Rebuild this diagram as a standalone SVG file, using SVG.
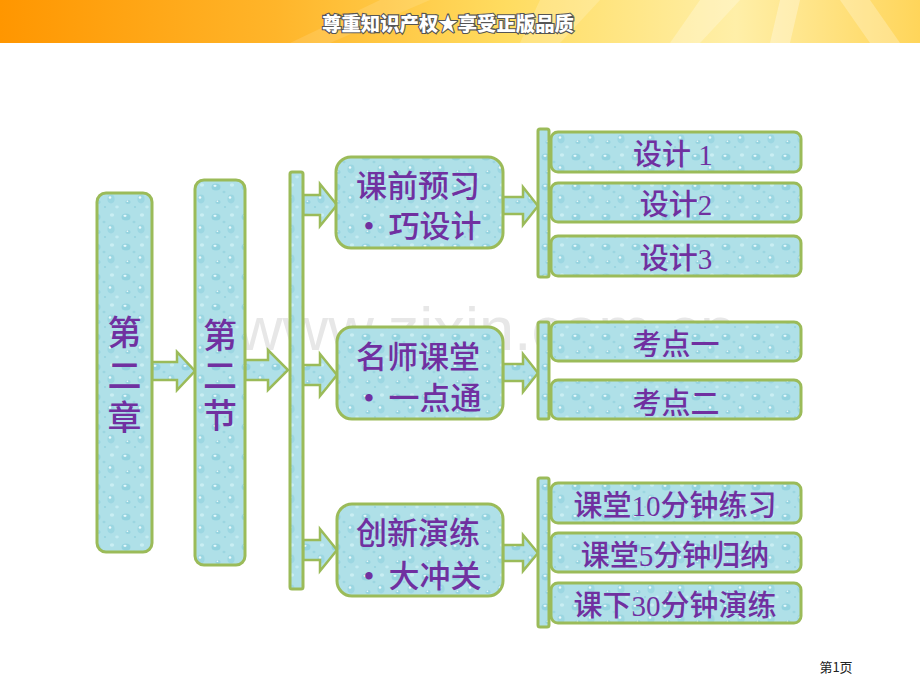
<svg xmlns="http://www.w3.org/2000/svg" width="920" height="690" viewBox="0 0 920 690">
<defs>
<linearGradient id="banner" x1="0" y1="0" x2="1" y2="0">
<stop offset="0" stop-color="#FF9600"/>
<stop offset="0.3" stop-color="#FFB52A"/>
<stop offset="0.55" stop-color="#FFDC60"/>
<stop offset="0.8" stop-color="#FFEFA8"/>
<stop offset="1" stop-color="#FFD55A"/>
</linearGradient>
<pattern id="drops" width="30" height="30" patternUnits="userSpaceOnUse">
<rect width="30" height="30" fill="#AFE0E8"/>
<ellipse cx="6" cy="7" rx="4.5" ry="3.6" fill="#86CCDA" opacity="0.65"/>
<ellipse cx="5" cy="5.8" rx="1.6" ry="1.1" fill="#E8F8FB"/>
<ellipse cx="21" cy="19" rx="3.6" ry="4.4" fill="#8FD0DD" opacity="0.6"/>
<ellipse cx="20" cy="17.5" rx="1.3" ry="1.3" fill="#EAF9FB"/>
<ellipse cx="22" cy="5" rx="2.2" ry="1.8" fill="#C9EEF3"/>
<ellipse cx="8" cy="22" rx="2.6" ry="2.1" fill="#97D4E0"/>
<ellipse cx="7.4" cy="21.2" rx="0.9" ry="0.7" fill="#F0FBFD"/>
<ellipse cx="14" cy="12" rx="1.5" ry="1.2" fill="#9BD6E1"/>
<ellipse cx="27" cy="27" rx="1.8" ry="1.4" fill="#C5ECF2"/>
<ellipse cx="15" cy="27" rx="1.2" ry="1" fill="#8DCFDC" opacity="0.7"/>
</pattern>
<style>
.box{fill:url(#drops);stroke:#9BBB59;stroke-width:3}
.arr{fill:url(#drops);stroke:#9BBB59;stroke-width:2.5;stroke-linejoin:miter}
.t{fill:#7030A0;font-family:"Liberation Serif","Noto Sans CJK SC",serif;font-weight:500;text-anchor:middle}
.big{font-size:34px}
.mid{font-size:31px}
.sm{font-size:29px}
</style>
</defs>
<rect width="920" height="690" fill="#FFFFFF"/>
<g id="header">
<rect x="0" y="0" width="920" height="43" fill="url(#banner)"/>
<polygon points="540,0 600,0 560,43 520,43" fill="#FFFFFF" opacity="0.18"/>
<polygon points="700,0 740,0 700,43 670,43" fill="#FFFFFF" opacity="0.25"/>
<polygon points="780,0 800,0 790,43 770,43" fill="#FFFFFF" opacity="0.3"/>
<polygon points="840,0 870,0 900,43 870,43" fill="#FFFFFF" opacity="0.25"/>
<polygon points="380,0 430,0 330,43 290,43" fill="#FFFFFF" opacity="0.12"/>
<text x="448" y="31" font-family="Noto Sans CJK SC, sans-serif" font-weight="900" font-size="19" text-anchor="middle" fill="#FFFFFF" stroke="#555555" stroke-width="2.2" paint-order="stroke" textLength="252" lengthAdjust="spacingAndGlyphs">尊重知识产权★享受正版品质</text>
</g>
<text x="237" y="350" font-family="Liberation Sans, sans-serif" font-size="62" fill="#BBBBBB" opacity="0.35" textLength="498" lengthAdjust="spacingAndGlyphs">www.zixin.com.cn</text>
<g id="connectors">
<polygon class="arr" points="152,362 177,362 177,352 195,371 177,390 177,380 152,380"/>
<polygon class="arr" points="245,360 268,360 268,350 288,370 268,390 268,380 245,380"/>
<polygon class="arr" points="303,195 320,195 320,184 337,205 320,226 320,215 303,215"/>
<polygon class="arr" points="303,365 320,365 320,354 337,375 320,396 320,385 303,385"/>
<polygon class="arr" points="303,540 320,540 320,529 337,550 320,571 320,560 303,560"/>
<polygon class="arr" points="503,197 523,197 523,187 538,206 523,225 523,214 503,214"/>
<polygon class="arr" points="503,364 523,364 523,354 538,373 523,392 523,381 503,381"/>
<polygon class="arr" points="503,545 523,545 523,535 538,553 523,571 523,561 503,561"/>
</g>
<g id="node-chapter">
<rect class="box" x="97" y="193" width="55" height="359" rx="9"/>
<text class="t big" x="124.5" y="345">第</text>
<text class="t big" x="124.5" y="387.5">二</text>
<text class="t big" x="124.5" y="430">章</text>
</g>
<g id="node-section">
<rect class="box" x="195" y="180" width="50" height="385" rx="9"/>
<text class="t big" x="220" y="348">第</text>
<text class="t big" x="220" y="388">二</text>
<text class="t big" x="220" y="428">节</text>
</g>
<g id="bar-main">
<rect class="box" x="290" y="172" width="13" height="417" rx="2"/>
</g>
<g id="node-preview">
<rect class="box" x="336" y="157" width="167" height="91" rx="15"/>
<text class="t mid" x="418" y="197">课前预习</text>
<text class="t mid" y="237"><tspan x="369">•</tspan><tspan x="435">巧设计</tspan></text>
</g>
<g id="node-class">
<rect class="box" x="337" y="327" width="166" height="92" rx="15"/>
<text class="t mid" x="418" y="368">名师课堂</text>
<text class="t mid" y="409"><tspan x="369">•</tspan><tspan x="435">一点通</tspan></text>
</g>
<g id="node-practice">
<rect class="box" x="337" y="504" width="166" height="92" rx="15"/>
<text class="t mid" x="418" y="544">创新演练</text>
<text class="t mid" y="587"><tspan x="369">•</tspan><tspan x="435">大冲关</tspan></text>
</g>
<g id="bar-r1"><rect class="box" x="538" y="129" width="11" height="148" rx="2"/></g>
<g id="bar-r2"><rect class="box" x="538" y="322" width="11" height="97" rx="2"/></g>
<g id="bar-r3"><rect class="box" x="538" y="478" width="11" height="149" rx="2"/></g>
<g id="node-d1"><rect class="box" x="551" y="132" width="250" height="40" rx="7"/><text class="t sm" x="673" y="165">设计 1</text></g>
<g id="node-d2"><rect class="box" x="551" y="183" width="250" height="39" rx="7"/><text class="t sm" x="676" y="215">设计2</text></g>
<g id="node-d3"><rect class="box" x="551" y="236" width="250" height="40" rx="7"/><text class="t sm" x="676" y="269">设计3</text></g>
<g id="node-k1"><rect class="box" x="551" y="322" width="250" height="39" rx="7"/><text class="t sm" x="676" y="355">考点一</text></g>
<g id="node-k2"><rect class="box" x="551" y="380" width="250" height="39" rx="7"/><text class="t sm" x="676" y="414">考点二</text></g>
<g id="node-p1"><rect class="box" x="551" y="483" width="250" height="40" rx="7"/><text class="t sm" x="675" y="516">课堂10分钟练习</text></g>
<g id="node-p2"><rect class="box" x="551" y="533" width="250" height="39" rx="7"/><text class="t sm" x="675" y="566">课堂5分钟归纳</text></g>
<g id="node-p3"><rect class="box" x="551" y="583" width="250" height="40" rx="7"/><text class="t sm" x="675" y="616">课下30分钟演练</text></g>
<text x="836" y="672" font-family="Noto Sans CJK SC, sans-serif" font-size="13" text-anchor="middle" fill="#222222">第1页</text>
</svg>
